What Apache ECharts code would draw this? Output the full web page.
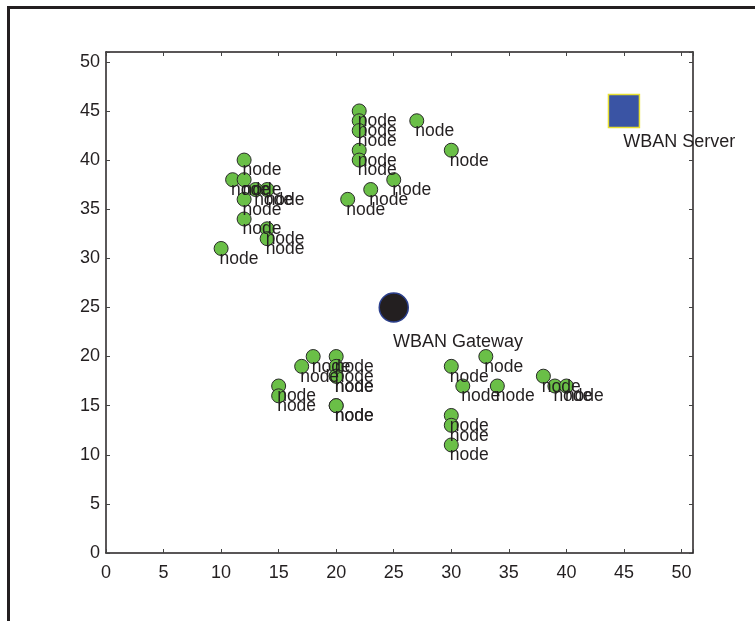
<!DOCTYPE html>
<html>
<head>
<meta charset="utf-8">
<script src="https://cdn.jsdelivr.net/npm/echarts@6/dist/echarts.min.js"></script>
<style>
html,body{margin:0;padding:0;background:#fff;}
#chart{width:755px;height:621px;}
</style>
</head>
<body>
<div id="chart"></div>
<script>
// Sensor node positions (x, y)
const nodeX = [12, 11, 12, 13, 14, 12, 12, 14, 14, 10,
               22, 22, 22, 22, 22, 27, 30, 25, 23, 21,
               18, 17, 20, 20, 20, 20, 15, 15, 20, 20,
               33, 30, 31, 34, 38, 39, 40, 30, 30, 30];
const nodeY = [40, 38, 38, 37, 37, 36, 34, 33, 32, 31,
               45, 44, 43, 41, 40, 44, 41, 38, 37, 36,
               20, 19, 20, 19, 18, 18, 17, 16, 15, 15,
               20, 19, 17, 17, 18, 17, 17, 14, 13, 11];
const nodeLabel = 'node';
const gateway = [25, 25];
const gatewayLabel = 'WBAN Gateway';
const server = [45, 45];
const serverLabel = 'WBAN Server';
const xTicks = [0, 5, 10, 15, 20, 25, 30, 35, 40, 45, 50];
const yTicks = [0, 5, 10, 15, 20, 25, 30, 35, 40, 45, 50];

const nodeData = nodeX.map((x, i) => [x, nodeY[i]]);
const FONT = "'Liberation Sans', Arial, Helvetica, sans-serif";
const TXT = '#231f20';

const xFmt = v => (xTicks.indexOf(v) >= 0 ? String(v) : '');
const yFmt = v => (yTicks.indexOf(v) >= 0 ? String(v) : '');
const axisCommon = {
  type: 'value', min: 0, max: 51, interval: 5,
  splitLine: {show: false},
  axisLine: {show: true, onZero: false, lineStyle: {color: '#231f20', width: 1.5}},
  axisTick: {show: true, inside: true, length: 4, lineStyle: {color: '#444', width: 1}},
};

const chart = echarts.init(document.getElementById('chart'), null, {renderer: 'canvas'});
chart.setOption({
  animation: false,
  backgroundColor: '#fff',
  grid: {left: 106, right: 62, top: 52, bottom: 68, containLabel: false},
  xAxis: [
    Object.assign({}, axisCommon, {position: 'bottom',
      axisLabel: {show: true, color: TXT, fontFamily: FONT, fontSize: 18, margin: 11, formatter: xFmt}}),
    Object.assign({}, axisCommon, {position: 'top', axisLabel: {show: false}})
  ],
  yAxis: [
    Object.assign({}, axisCommon, {position: 'left',
      axisLabel: {show: true, color: TXT, fontFamily: FONT, fontSize: 18, margin: 6, formatter: yFmt}}),
    Object.assign({}, axisCommon, {position: 'right', axisLabel: {show: false}})
  ],
  series: [
    {
      type: 'scatter', name: 'nodes', xAxisIndex: 0, yAxisIndex: 0,
      data: nodeData, symbol: 'circle', symbolSize: 14,
      itemStyle: {color: '#6abf47', borderColor: '#2a2a2a', borderWidth: 1, opacity: 1},
      label: {show: true, formatter: nodeLabel, position: [6, 18], align: 'left', verticalAlign: 'middle',
        color: TXT, fontFamily: FONT, fontSize: 17.5},
      emphasis: {disabled: true}
    },
    {
      type: 'scatter', name: 'gateway', xAxisIndex: 0, yAxisIndex: 0,
      data: [gateway], symbol: 'circle', symbolSize: 29,
      itemStyle: {color: '#231f20', borderColor: '#2b3f8c', borderWidth: 1.5, opacity: 1},
      label: {show: true, formatter: gatewayLabel, position: [14.5, 50], align: 'left', verticalAlign: 'middle',
        color: TXT, fontFamily: FONT, fontSize: 18},
      emphasis: {disabled: true}
    },
    {
      type: 'scatter', name: 'server', xAxisIndex: 0, yAxisIndex: 0,
      data: [server], symbol: 'rect', symbolSize: [31, 33],
      itemStyle: {color: '#3a54a4', borderColor: '#e8e030', borderWidth: 1.5, opacity: 1},
      label: {show: true, formatter: serverLabel, position: [15.5, 48.5], align: 'left', verticalAlign: 'middle',
        color: TXT, fontFamily: FONT, fontSize: 18},
      emphasis: {disabled: true}
    }
  ],
  graphic: [
    {type: 'polyline', silent: true, z: 100,
      shape: {points: [[8.5, 621], [8.5, 7.5], [755, 7.5]]},
      style: {stroke: '#231f20', lineWidth: 3, fill: null}}
  ]
});
</script>
</body>
</html>
